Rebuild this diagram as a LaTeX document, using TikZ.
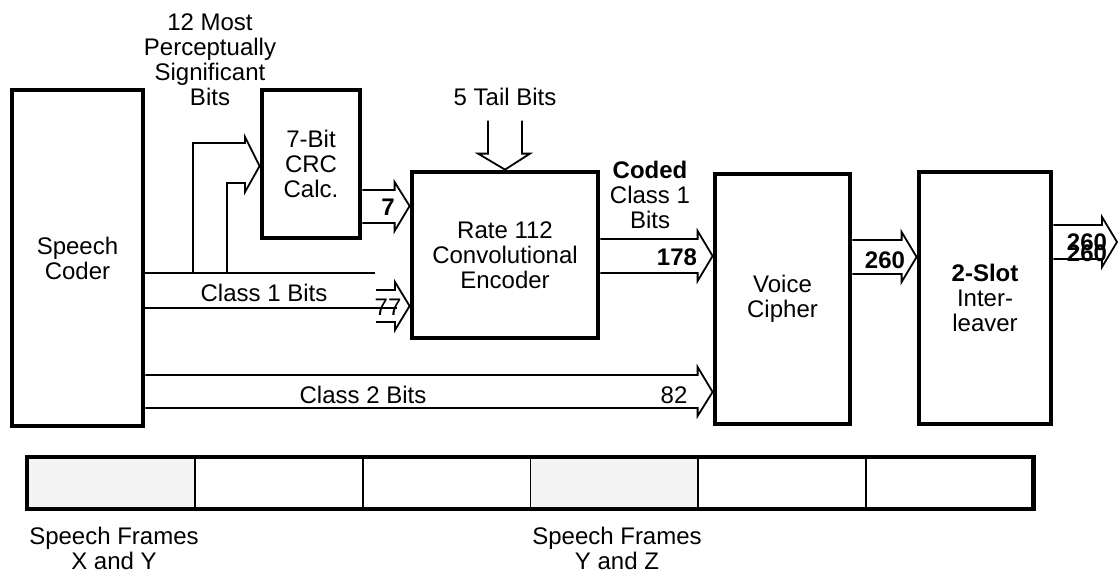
\documentclass[tikz,border=0pt]{standalone}
\usepackage{fontspec}
\setmainfont{Liberation Sans}
\usetikzlibrary{calc}
\newcommand{\figfont}{\fontsize{12}{12.5}\selectfont}
% hollow block arrow: from, to, top y, tip y, bottom y
\newcommand{\fatarrow}[5]{%
  \draw[flow] (#1 |- 0,#3) -- ($(#2 |- 0,#3)+(-15,0)$) -- ++(0,-8)
    -- (#2 |- 0,#4) -- ($(#2 |- 0,#5)+(-15,8)$) -- ++(0,-8) -- (#1 |- 0,#5);}

\begin{document}
\begin{tikzpicture}[x=0.5pt,y=-0.5pt,
    box/.style={draw,line width=2.4pt,align=center,inner sep=0pt,font=\figfont},
    cell/.style={draw,line width=0.9pt,outer sep=0pt,minimum width=83.9pt,minimum height=26pt},
    flow/.style={line width=0.9pt,line join=miter},
    lbl/.style={align=center,inner sep=0pt,font=\figfont},
    num/.style={inner sep=0pt,font=\figfont\bfseries}]
  \useasboundingbox (0,0) rectangle (1118,574);

  % blocks
  \node[box,minimum width=65.5pt,minimum height=168pt] (coder) at (77.5,258) {Speech\\Coder};
  \node[box,minimum width=49pt,minimum height=74pt] (crc) at (311,164) {7-Bit\\CRC\\Calc.};
  \node[box,minimum width=93pt,minimum height=83pt] (enc) at (505,255) {Rate 112\\Convolutional\\Encoder};
  \node[box,minimum width=67.5pt,minimum height=125pt] (cipher) at (782.5,299) {Voice\\Cipher};
  \node[box,minimum width=66pt,minimum height=126pt] (ilv) at (985,298) {\textbf{2-Slot}\\Inter-\\leaver};

  % labels
  \node[lbl] (msb) at (210,60) {12 Most\\Perceptually\\Significant\\Bits};
  \node[lbl] (tail) at (505,97) {5 Tail Bits};
  \node[lbl] (coded) at (650,195) {\textbf{Coded}\\Class 1\\Bits};
  \node[lbl] (c1lbl) at (264,293) {Class 1 Bits};
  \node[lbl] (c2lbl) at (363,395) {Class 2 Bits};
  \node[num] (n7) at (388,207) {7};
  \node[lbl] (n77) at (388,307) {77};
  \node[num] (n178) at (677,257) {178};
  \node[lbl] (n82) at (674,395) {82};
  \node[num] (n260) at (885,260) {260};
  \node[num] (out1) at (1087,242) {260};
  \node[num] (out2) at (1087,253) {260};

  % class 1 bits
  \coordinate (br1) at (193,273);
  \coordinate (br2) at (227,273);
  \draw[flow] (coder.east |- 0,273) -- (375,273);
  \draw[flow] (coder.east |- 0,308) -- (397,308);
  \draw[flow] (376,290) -- (395,290) -- (395,282) -- (enc.west |- 0,306)
    -- (395,330) -- (395,322) -- (376,322);
  % bits to the crc
  \draw[flow] (br1) |- (245,143) -- (245,137) -- (crc.west |- 0,166)
    -- (245,192) -- (245,183) -| (br2);
  \fatarrow{crc.east}{enc.west}{190}{206}{223}
  % tail bits
  \draw[flow] ($(enc.north)+(-17,-49)$) -- ++(0,33) -- ++(-10,0) -- (enc.north)
    -- ++(25,-16) -- ++(-8,0) -- ++(0,-33);
  \fatarrow{enc.east}{cipher.west}{239}{256}{273}
  \fatarrow{coder.east}{cipher.west}{375}{392}{408}
  \fatarrow{cipher.east}{ilv.west}{240}{257}{274}
  \coordinate (out) at (1117,242);
  \fatarrow{ilv.east}{out}{225}{242}{259}

  % speech frames
  \foreach \i/\shade in {0/gray!9,1/white,2/white,3/gray!9,4/white,5/white}
    \node[cell,fill=\shade] (f\i) at ({27+167.8*(\i+0.5)},483) {};
  \draw[line width=2.4pt] (f0.north west) rectangle (f5.south east);
  \node[lbl] (fxy) at (114,548) {Speech Frames\\X and Y};
  \node[lbl] (fyz) at (617,548) {Speech Frames\\Y and Z};
\end{tikzpicture}
\end{document}
